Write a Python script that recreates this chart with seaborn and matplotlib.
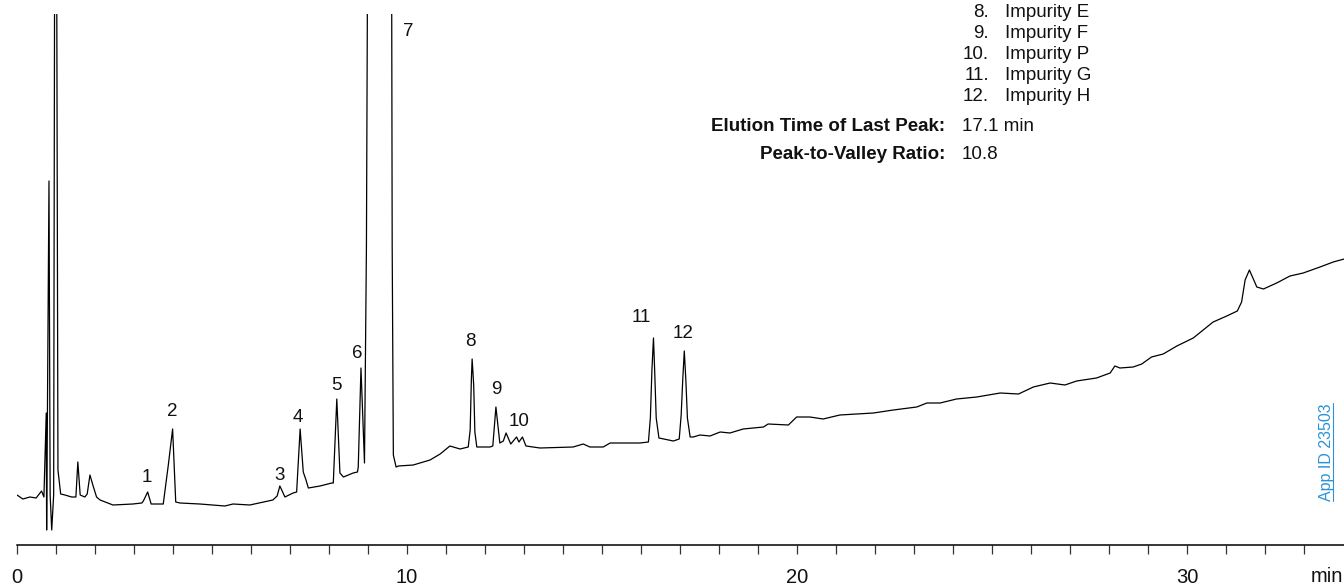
"""
HPLC chromatogram of impurity separation (App ID 23503) redrawn with seaborn
"""

import numpy as np
import pandas as pd
import matplotlib
matplotlib.use('Agg')
import matplotlib.pyplot as plt
from matplotlib.lines import Line2D
import seaborn as sns

# trace: retention time (min) and detector signal (arb. units)
time_min = [
    0.00, 0.15, 0.33, 0.49, 0.63, 0.69, 0.75, 0.76, 0.82, 0.85, 0.89, 0.94, 0.97, 1.01,
    1.05, 1.12, 1.23, 1.40, 1.51, 1.56, 1.62, 1.74, 1.80, 1.87, 1.96, 2.04, 2.13, 2.46,
    2.97, 3.20, 3.24, 3.35, 3.44, 3.67, 3.75, 3.88, 3.99, 4.07, 4.18, 4.69, 5.33, 5.54,
    5.97, 6.56, 6.67, 6.74, 6.87, 7.08, 7.17, 7.26, 7.34, 7.41, 7.47, 7.77, 8.07, 8.11,
    8.20, 8.28, 8.37, 8.62, 8.73, 8.75, 8.82, 8.91, 8.96, 9.00, 9.60, 9.62, 9.65, 9.72,
    9.78, 10.16, 10.59, 10.85, 11.10, 11.36, 11.57, 11.62, 11.65, 11.67, 11.71, 11.74,
    11.79, 12.13, 12.20, 12.28, 12.38, 12.47, 12.54, 12.66, 12.81, 12.87, 12.96, 13.05,
    13.41, 14.26, 14.52, 14.69, 15.03, 15.21, 15.97, 16.19, 16.24, 16.28, 16.32, 16.35,
    16.39, 16.46, 16.83, 16.98, 17.03, 17.07, 17.11, 17.15, 17.19, 17.26, 17.34, 17.51,
    17.77, 18.03, 18.28, 18.62, 19.14, 19.26, 19.78, 19.99, 20.33, 20.67, 21.10, 21.96,
    22.47, 23.07, 23.33, 23.67, 24.09, 24.61, 25.21, 25.68, 26.06, 26.49, 26.87, 27.17,
    27.68, 28.03, 28.15, 28.28, 28.62, 28.84, 29.09, 29.39, 29.74, 30.16, 30.67, 31.02,
    31.29, 31.40, 31.49, 31.60, 31.69, 31.79, 31.96, 32.30, 32.64, 32.98, 33.41, 33.75,
    34.03,
]
signal = [
    50, 46, 48, 47, 54, 48, 132, 15, 364, 50, 15, 50, 700, 700,
    75, 51, 50, 48, 48, 83, 50, 48, 51, 70, 58, 48, 45, 40,
    41, 42, 44, 53, 41, 41, 41, 80, 116, 43, 42, 41, 39, 41,
    40, 45, 49, 59, 48, 52, 53, 116, 73, 65, 57, 59, 62, 62,
    146, 72, 68, 72, 73, 78, 177, 82, 300, 700, 700, 300, 90, 78,
    79, 80, 85, 91, 99, 96, 98, 115, 165, 186, 160, 113,
    98, 98, 99, 138, 102, 104, 112, 101, 108, 103, 108, 99,
    97, 98, 101, 98, 98, 102, 102, 103, 127, 175, 207, 175,
    127, 107, 104, 106, 130, 165, 194, 165, 127, 108, 108, 110,
    109, 113, 112, 116, 118, 121, 120, 128, 128, 126, 130, 132,
    135, 138, 142, 142, 146, 148, 152, 151, 158, 162, 160, 164,
    167, 172, 179, 177, 178, 181, 188, 191, 199, 207, 223, 229,
    234, 243, 265, 275, 267, 258, 256, 262, 269, 272, 278, 283,
    286,
]

# peak numbers and where their labels sit (time, signal)
peak_ids = ['1', '2', '3', '4', '5', '6', '7', '8', '9', '10', '11', '12']
label_time = [3.32, 3.99, 6.72, 7.21, 8.20, 8.73, 10.02, 11.62, 12.30, 12.88, 16.00, 17.07]
label_signal = [68, 133, 69, 128, 159, 192, 513, 204, 155, 123, 227, 212]

# visible part of the peak legend
legend_nums = ['8.', '9.', '10.', '11.', '12.']
legend_names = ['Impurity E', 'Impurity F', 'Impurity P', 'Impurity G', 'Impurity H']

info_keys = ['Elution Time of Last Peak:', 'Peak-to-Valley Ratio:']
info_vals = ['17.1 min', '10.8']

tick_major = [0, 10, 20, 30]
tick_minor = list(range(0, 34))

W, H = 1344, 585


def fx(px):
    return px / W


def fy(py):
    return 1 - py / H


sns.set_style('white')
plt.rcParams['font.family'] = ['Liberation Sans', 'DejaVu Sans']

fig = plt.figure(figsize=(W / 100, H / 100), dpi=100)
ax = fig.add_axes([fx(17), fy(545), (W - 17) / W, (545 - 14) / H])

df = pd.DataFrame({'time': time_min, 'signal': signal})
sns.lineplot(data=df, x='time', y='signal', ax=ax, color='black', lw=0.9,
             sort=False, estimator=None)

ax.set_xlim(0, (W - 17) / 39)
ax.set_ylim(0, 531)

for pid, t, s in zip(peak_ids, label_time, label_signal):
    ax.text(t, s, pid, ha='center', va='center', fontsize=13.5, color='#111111')

# axis styling: only a bottom time axis
for side in ['left', 'right', 'top']:
    ax.spines[side].set_visible(False)
ax.spines['bottom'].set_linewidth(1.1)
ax.spines['bottom'].set_color('black')
ax.set_yticks([])
ax.set_xticks(tick_major)
ax.set_xticklabels([str(v) for v in tick_major])
ax.set_xticks(tick_minor, minor=True)
ax.tick_params(axis='x', which='both', direction='out', length=6.5, width=0.9,
               color='#333333', bottom=True)
ax.tick_params(axis='x', which='major', labelsize=14.5, pad=10, labelcolor='#111111')
ax.set_xlabel('')
ax.set_ylabel('')

fig.text(fx(1343), fy(577), 'min', ha='right', va='center', fontsize=14.5, color='#111111')

# legend text block, top right
row_y = [12.7, 33.5, 54.3, 75.2, 96.5]
for num, name, y in zip(legend_nums, legend_names, row_y):
    fig.text(fx(989), fy(y), num, ha='right', va='center', fontsize=13.5, color='#111111')
    fig.text(fx(1005), fy(y), name, ha='left', va='center', fontsize=13.5, color='#111111')

for key, val, y in zip(info_keys, info_vals, [126.7, 155.0]):
    fig.text(fx(945), fy(y), key, ha='right', va='center', fontsize=13.5,
             fontweight='bold', color='#111111')
    fig.text(fx(962), fy(y), val, ha='left', va='center', fontsize=13.5, color='#111111')

# app id, rotated and underlined
fig.text(fx(1326), fy(452), 'App ID 23503', rotation=90, ha='center', va='center',
         fontsize=11.5, color='#2a93d5')
fig.add_artist(Line2D([fx(1333), fx(1333)], [fy(403), fy(501)],
                      transform=fig.transFigure, color='#2a93d5', lw=0.8))

fig.savefig('out.png', dpi=100)
